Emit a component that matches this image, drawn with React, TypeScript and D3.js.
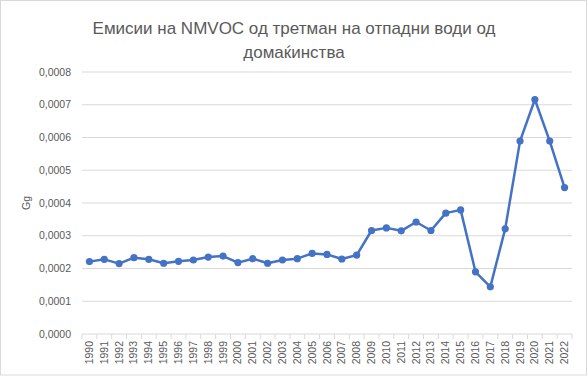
import React from "react";
import * as d3 from "d3";

const years: string[] = [
  "1990","1991","1992","1993","1994","1995","1996","1997","1998","1999",
  "2000","2001","2002","2003","2004","2005","2006","2007","2008","2009",
  "2010","2011","2012","2013","2014","2015","2016","2017","2018","2019",
  "2020","2021","2022",
];
const emissions: number[] = [
  0.000221, 0.000228, 0.000215, 0.000233, 0.000228, 0.000216, 0.000222, 0.000226, 0.000235, 0.000238,
  0.000218, 0.00023, 0.000216, 0.000226, 0.00023, 0.000246, 0.000243, 0.000229, 0.000241, 0.000316,
  0.000324, 0.000315, 0.000342, 0.000316, 0.000369, 0.000379, 0.00019, 0.000144, 0.000321, 0.000589,
  0.000716, 0.000589, 0.000447,
];
const yTicks: number[] = [0, 0.0001, 0.0002, 0.0003, 0.0004, 0.0005, 0.0006, 0.0007, 0.0008];
const titleLines: string[] = ["Емисии на NMVOC од третман на отпадни води од", "домаќинства"];
const yLabel = "Gg";

const W = 588;
const H = 376;
const M = { left: 82, right: 572, top: 72, bottom: 334 };
const FONT = "'Liberation Sans', Arial, sans-serif";
const TXT = "#595959";
const GRID = "#d9d9d9";
const BLUE = "#4472C4";

export default function App() {
  const x = d3.scaleBand<string>().domain(years).range([M.left, M.right]);
  const y = d3.scaleLinear().domain([0, 0.0008]).range([M.bottom, M.top]);
  const cx = (d: string) => (x(d) as number) + x.bandwidth() / 2;
  const line = d3
    .line<number>()
    .x((_, i) => cx(years[i]))
    .y((v) => y(v));
  const fmt = (v: number) => v.toFixed(4).replace(".", ",");
  const boundaries = d3.range(years.length + 1).map((i) => M.left + i * x.bandwidth());

  return (
    <div style={{ position: "absolute", left: 0, top: 0 }}>
      <svg width={W} height={H} style={{ display: "block" }} fontFamily={FONT}>
        <rect x={0.5} y={0.5} width={586} height={374.5} fill="#fff" stroke={GRID} />
        {titleLines.map((t, i) => (
          <text key={i} x={294} y={34 + i * 24} textAnchor="middle" fontSize={17} fill={TXT}>
            {t}
          </text>
        ))}
        {yTicks.slice(1).map((t) => (
          <line key={t} x1={M.left} x2={M.right} y1={y(t)} y2={y(t)} stroke={GRID} strokeWidth={1} />
        ))}
        {yTicks.map((t) => (
          <text key={"l" + t} x={71} y={y(t)} dy="0.35em" textAnchor="end" fontSize={10.5} fill={TXT}>
            {fmt(t)}
          </text>
        ))}
        <line x1={M.left} x2={M.right} y1={M.bottom} y2={M.bottom} stroke={GRID} />
        {boundaries.map((bx, i) => (
          <line key={"t" + i} x1={bx} x2={bx} y1={M.bottom} y2={M.bottom + 5} stroke={GRID} />
        ))}
        {years.map((yr) => (
          <text
            key={yr}
            transform={`translate(${cx(yr) + 3.5},${M.bottom + 7}) rotate(-90)`}
            textAnchor="end"
            fontSize={10.5}
            fill={TXT}
          >
            {yr}
          </text>
        ))}
        <text
          transform={`translate(30,${(M.top + M.bottom) / 2}) rotate(-90)`}
          textAnchor="middle"
          fontSize={10.5}
          fill={TXT}
        >
          {yLabel}
        </text>
        <path d={line(emissions) || ""} fill="none" stroke={BLUE} strokeWidth={2.5} strokeLinejoin="round" />
        {emissions.map((v, i) => (
          <circle key={i} cx={cx(years[i])} cy={y(v)} r={3.6} fill={BLUE} />
        ))}
      </svg>
    </div>
  );
}
